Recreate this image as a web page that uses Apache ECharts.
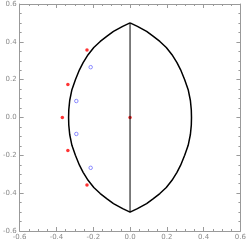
<!DOCTYPE html>
<html><head><meta charset="utf-8">
<script src="https://cdn.jsdelivr.net/npm/echarts@6/dist/echarts.min.js"></script>
<style>html,body{margin:0;padding:0;background:#fff}#c{width:249px;height:244px}</style>
</head><body><div id="c"></div>
<script>
// Lens outline points (x, y), traced counter-clockwise from the top vertex
const outlineX = [0, -0.04, -0.09, -0.125, -0.162, -0.197, -0.228, -0.255, -0.275, -0.297, -0.316, -0.328, -0.333, -0.334,
  -0.333, -0.328, -0.316, -0.297, -0.275, -0.255, -0.228, -0.197, -0.162, -0.125, -0.09, -0.04, 0,
  0.04, 0.09, 0.125, 0.162, 0.197, 0.228, 0.255, 0.275, 0.297, 0.316, 0.328, 0.333, 0.334,
  0.333, 0.328, 0.316, 0.297, 0.275, 0.255, 0.228, 0.197, 0.162, 0.125, 0.09, 0.04, 0];
const outlineY = [0.5, 0.482, 0.455, 0.43, 0.402, 0.37, 0.332, 0.29, 0.252, 0.20, 0.147, 0.09, 0.04, 0,
  -0.04, -0.09, -0.147, -0.20, -0.252, -0.29, -0.332, -0.37, -0.402, -0.43, -0.455, -0.482, -0.5,
  -0.482, -0.455, -0.43, -0.402, -0.37, -0.332, -0.29, -0.252, -0.20, -0.147, -0.09, -0.04, 0,
  0.04, 0.09, 0.147, 0.20, 0.252, 0.29, 0.332, 0.37, 0.402, 0.43, 0.455, 0.482, 0.5];
// Vertical chord
const chordX = [0, 0];
const chordY = [0.5, -0.5];
// Red filled points
const redX = [0, -0.368, -0.338, -0.338, -0.234, -0.234];
const redY = [0, 0, 0.175, -0.175, 0.357, -0.357];
// Blue open points
const blueX = [-0.214, -0.292, -0.292, -0.214];
const blueY = [0.266, 0.087, -0.087, -0.266];
// Axis ticks
const xTicks = [-0.6, -0.4, -0.2, 0.0, 0.2, 0.4, 0.6];
const yTicks = [-0.6, -0.4, -0.2, 0.0, 0.2, 0.4, 0.6];

const zip = (a, b) => a.map((v, i) => [v, b[i]]);
const fmt = v => (Math.abs(v) < 1e-9 ? 0 : v).toFixed(1);
const frameCol = '#9a9a9a';
function axis(pos, labels, ticks) {
  return {
    type: 'value', position: pos, min: ticks[0], max: ticks[ticks.length - 1], interval: 0.2,
    axisLine: { show: true, onZero: false, lineStyle: { color: frameCol, width: 1 } },
    axisTick: { show: true, inside: true, length: 4, lineStyle: { color: frameCol } },
    minorTick: { show: true, splitNumber: 4, length: 2, lineStyle: { color: frameCol } },
    splitLine: { show: false },
    axisLabel: { show: labels, formatter: fmt, color: '#8a8a8a', fontSize: 7, margin: 3, fontFamily: 'DejaVu Sans' }
  };
}
const chart = echarts.init(document.getElementById('c'));
chart.setOption({
  animation: false,
  grid: { left: 16, top: 4, right: 6, bottom: 13, containLabel: false },
  xAxis: [axis('bottom', true, xTicks), axis('top', false, xTicks)],
  yAxis: [axis('left', true, yTicks), axis('right', false, yTicks)],
  series: [
    { type: 'line', data: zip(outlineX, outlineY), showSymbol: false, smooth: false,
      lineStyle: { color: '#000', width: 1.5, join: 'round' } },
    { type: 'line', data: zip(chordX, chordY), showSymbol: false,
      lineStyle: { color: '#000', width: 1 } },
    { type: 'scatter', data: zip(blueX, blueY), symbol: 'circle', symbolSize: 3.5,
      itemStyle: { color: '#fff', borderColor: '#7070ff', borderWidth: 1 } },
    { type: 'scatter', data: zip(redX, redY), symbol: 'circle', symbolSize: 3.5,
      itemStyle: { color: '#ff0000' } }
  ]
});
</script></body></html>
